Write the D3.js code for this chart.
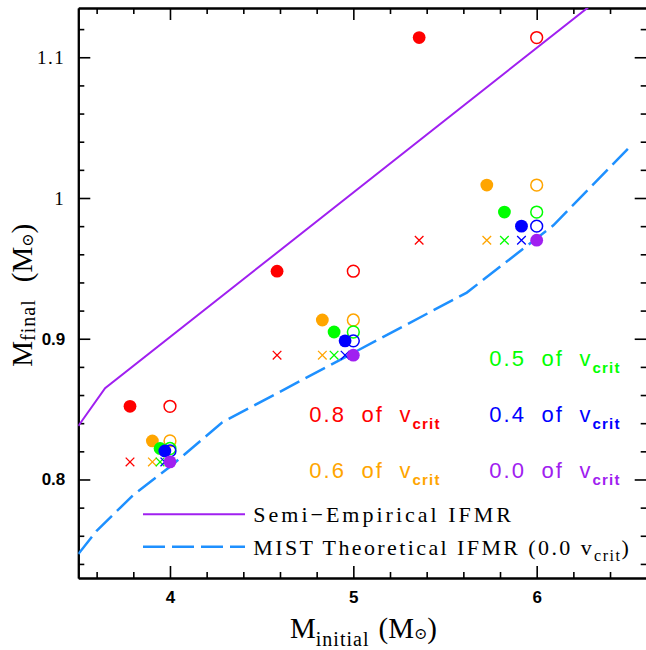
<!DOCTYPE html>
<html><head><meta charset="utf-8">
<script src="https://cdn.jsdelivr.net/npm/d3@7"></script>
<style>html,body{margin:0;padding:0;background:#fff}</style>
</head><body>
<svg id="chart" width="646" height="650"></svg>
<script>
// ---- data ----
const rotationLabels = ["0.8", "0.6", "0.5", "0.4", "0.0"];
const rotationColors = ["#ff0000", "#ffa500", "#00ff00", "#0000ff", "#a020f0"];
const initialMasses = [4, 5, 6];
// filled circles: effective initial mass and final mass
const effMass = [
  [3.782, 4.584, 5.359],
  [3.904, 4.831, 5.728],
  [3.946, 4.895, 5.824],
  [3.972, 4.955, 5.917],
  [4.0, 5.0, 6.0]
];
const finalMass = [
  [0.852, 0.948, 1.114],
  [0.8274, 0.9133, 1.0092],
  [0.822, 0.9048, 0.990],
  [0.8203, 0.8985, 0.980],
  [0.8125, 0.8883, 0.970]
];
// crosses: non-rotating final mass at effective initial mass
const crossMass = [0.8125, 0.8883, 0.970];
const semiEmpX = [3.5, 3.646, 6.4];
const semiEmpY = [0.838, 0.8648, 1.1477];
const mistX = [3.5, 3.6, 3.8, 4.0, 4.284, 5.619, 6.091, 6.509];
const mistY = [0.747, 0.7635, 0.789, 0.809, 0.8405, 0.9328, 0.9806, 1.0365];
const xMajor = [4, 5, 6];
const xMajorLabels = ["4", "5", "6"];
const yMajor = [0.8, 0.9, 1.0, 1.1];
const yMajorLabels = ["0.8", "0.9", "1", "1.1"];

// ---- layout ----
const L = 78.3, R = 646.7, T = 8, B = 578;
const svg = d3.select("#chart");
const x = d3.scaleLinear().domain([3.5, 6.6]).range([L, R]);
const y = d3.scaleLinear().domain([0.73, 1.135]).range([B, T]);
const xMinor = d3.range(3.6, 6.59, 0.2).filter(v => Math.abs(v - Math.round(v)) > 1e-6);
const yMinor = d3.range(0.74, 1.135, 0.02).filter(v => Math.abs(v * 10 - Math.round(v * 10)) > 1e-6);

svg.append("defs").append("clipPath").attr("id", "clip")
  .append("rect").attr("x", L).attr("y", T).attr("width", R - L).attr("height", B - T);

function styleAxis(g) {
  g.selectAll("path.domain").attr("stroke", "#000").attr("stroke-width", 2);
  g.selectAll(".tick line").attr("stroke", "#000").attr("stroke-width", 1.6);
}
const sansTick = "'Liberation Sans', Arial, sans-serif";
const serifTick = "'Liberation Serif', 'Times New Roman', serif";

// bottom
const gb = svg.append("g").attr("transform", `translate(0,${B})`)
  .call(d3.axisBottom(x).tickValues(xMajor).tickSize(-12).tickSizeOuter(0).tickPadding(13)
    .tickFormat((d, i) => xMajorLabels[i]));
styleAxis(gb);
gb.selectAll("text").attr("font-family", sansTick).attr("font-size", 17).attr("font-weight", "bold").attr("fill", "#000");
const gbm = svg.append("g").attr("transform", `translate(0,${B})`)
  .call(d3.axisBottom(x).tickValues(xMinor).tickSize(-6).tickSizeOuter(0).tickFormat(""));
styleAxis(gbm);
// top
const gt = svg.append("g").attr("transform", `translate(0,${T})`)
  .call(d3.axisTop(x).tickValues(xMajor).tickSize(-12).tickSizeOuter(0).tickFormat(""));
styleAxis(gt);
const gtm = svg.append("g").attr("transform", `translate(0,${T})`)
  .call(d3.axisTop(x).tickValues(xMinor).tickSize(-6).tickSizeOuter(0).tickFormat(""));
styleAxis(gtm);
// left
const gl = svg.append("g").attr("transform", `translate(${L},0)`)
  .call(d3.axisLeft(y).tickValues(yMajor).tickSize(-12).tickSizeOuter(0).tickPadding(13)
    .tickFormat((d, i) => yMajorLabels[i]));
styleAxis(gl);
gl.selectAll("text").attr("fill", "#000")
  .each(function(d, i) {
    const lab = yMajorLabels[i];
    const serif = lab.indexOf("0.") !== 0;
    d3.select(this).attr("font-family", serif ? serifTick : sansTick)
      .attr("font-size", serif ? 19 : 17)
      .attr("font-weight", serif ? "normal" : "bold")
      .attr("letter-spacing", serif ? 1.5 : 0);
  });
const glm = svg.append("g").attr("transform", `translate(${L},0)`)
  .call(d3.axisLeft(y).tickValues(yMinor).tickSize(-6).tickSizeOuter(0).tickFormat(""));
styleAxis(glm);
// right
const gr = svg.append("g").attr("transform", `translate(${R},0)`)
  .call(d3.axisRight(y).tickValues(yMajor).tickSize(-12).tickSizeOuter(0).tickFormat(""));
styleAxis(gr);
const grm = svg.append("g").attr("transform", `translate(${R},0)`)
  .call(d3.axisRight(y).tickValues(yMinor).tickSize(-6).tickSizeOuter(0).tickFormat(""));
styleAxis(grm);

// ---- lines ----
const plot = svg.append("g").attr("clip-path", "url(#clip)");
const line = d3.line().x(d => x(d[0])).y(d => y(d[1]));
plot.append("path").datum(semiEmpX.map((v, i) => [v, semiEmpY[i]]))
  .attr("d", line).attr("fill", "none").attr("stroke", "#a020f0").attr("stroke-width", 2);
plot.append("path").datum(mistX.map((v, i) => [v, mistY[i]]))
  .attr("d", line).attr("fill", "none").attr("stroke", "#1e90ff").attr("stroke-width", 2.5)
  .attr("stroke-dasharray", "22,7");

// ---- markers ----
const pts = svg.append("g");
rotationLabels.forEach((lab, s) => {
  const col = rotationColors[s];
  const g = pts.append("g");
  if (s !== 4) {
    g.selectAll("path.cross").data(effMass[s]).join("path")
      .attr("d", (d, i) => {
        const cx = x(d), cy = y(crossMass[i]), h = 4.3;
        return `M${cx - h},${cy - h}L${cx + h},${cy + h}M${cx - h},${cy + h}L${cx + h},${cy - h}`;
      })
      .attr("stroke", col).attr("stroke-width", 1.3).attr("fill", "none");
  }
  g.selectAll("circle.filled").data(effMass[s]).join("circle")
    .attr("cx", d => x(d)).attr("cy", (d, i) => y(finalMass[s][i])).attr("r", 6.4)
    .attr("fill", col);
  if (s !== 4) {
    g.selectAll("circle.open").data(initialMasses).join("circle")
      .attr("cx", d => x(d)).attr("cy", (d, i) => y(finalMass[s][i])).attr("r", 5.9)
      .attr("fill", "none").attr("stroke", col).attr("stroke-width", 1.5);
  }
});

// ---- colored labels ----
const labelPos = [
  [309.3, 421.7], [309.3, 478.3], [489.3, 366], [489.3, 421.7], [489.3, 478.3]
];
rotationLabels.forEach((lab, s) => {
  const t = svg.append("text").attr("x", labelPos[s][0]).attr("y", labelPos[s][1])
    .attr("font-family", sansTick).attr("font-size", 22).attr("fill", rotationColors[s])
    .attr("letter-spacing", 2).attr("word-spacing", 7.5).attr("xml:space", "preserve");
  t.append("tspan").text(lab + " of v");
  t.append("tspan").attr("dy", 7).attr("font-size", 15).attr("font-weight", "bold")
    .attr("letter-spacing", 1.2).text("crit");
});

// ---- legend ----
const legY1 = 514.3, legY2 = 546.7;
svg.append("line").attr("x1", 143).attr("x2", 245).attr("y1", legY1).attr("y2", legY1)
  .attr("stroke", "#a020f0").attr("stroke-width", 2);
svg.append("line").attr("x1", 143).attr("x2", 245).attr("y1", legY2).attr("y2", legY2)
  .attr("stroke", "#1e90ff").attr("stroke-width", 2.5).attr("stroke-dasharray", "22,7");
svg.append("text").attr("x", 253.3).attr("y", 521.7)
  .attr("font-family", serifTick).attr("font-size", 22).attr("letter-spacing", 3.0)
  .attr("fill", "#000").text("Semi\u2212Empirical IFMR");
const mt = svg.append("text").attr("x", 253.3).attr("y", 555)
  .attr("font-family", serifTick).attr("font-size", 22).attr("letter-spacing", 2.4).attr("fill", "#000");
mt.append("tspan").text("MIST Theoretical IFMR (0.0 v");
mt.append("tspan").attr("dy", 6).attr("font-size", 16).attr("letter-spacing", 1.5).text("crit");
mt.append("tspan").attr("dy", -6).attr("letter-spacing", 0).text(")");

// ---- axis titles ----
const xt = svg.append("text").attr("x", 290).attr("y", 638.3)
  .attr("font-family", serifTick).attr("font-size", 29).attr("fill", "#000");
xt.append("tspan").text("M");
xt.append("tspan").attr("dy", 8).attr("font-size", 20).attr("letter-spacing", 1).text("initial");
xt.append("tspan").attr("dy", -8).attr("dx", 9).text("(M");
xt.append("tspan").attr("dy", 1).attr("font-size", 16).attr("font-family", "'DejaVu Serif', serif").text("\u2299");
xt.append("tspan").attr("dy", -1).text(")");

const yt = svg.append("text").attr("transform", "translate(31.7,366.7) rotate(-90)")
  .attr("font-family", serifTick).attr("font-size", 29).attr("fill", "#000");
yt.append("tspan").text("M");
yt.append("tspan").attr("dy", 3).attr("font-size", 20).attr("letter-spacing", 1).text("final");
yt.append("tspan").attr("dy", -3).attr("dx", 17).text("(M");
yt.append("tspan").attr("dy", 1).attr("font-size", 16).attr("font-family", "'DejaVu Serif', serif").text("\u2299");
yt.append("tspan").attr("dy", -1).text(")");
</script>
</body></html>
